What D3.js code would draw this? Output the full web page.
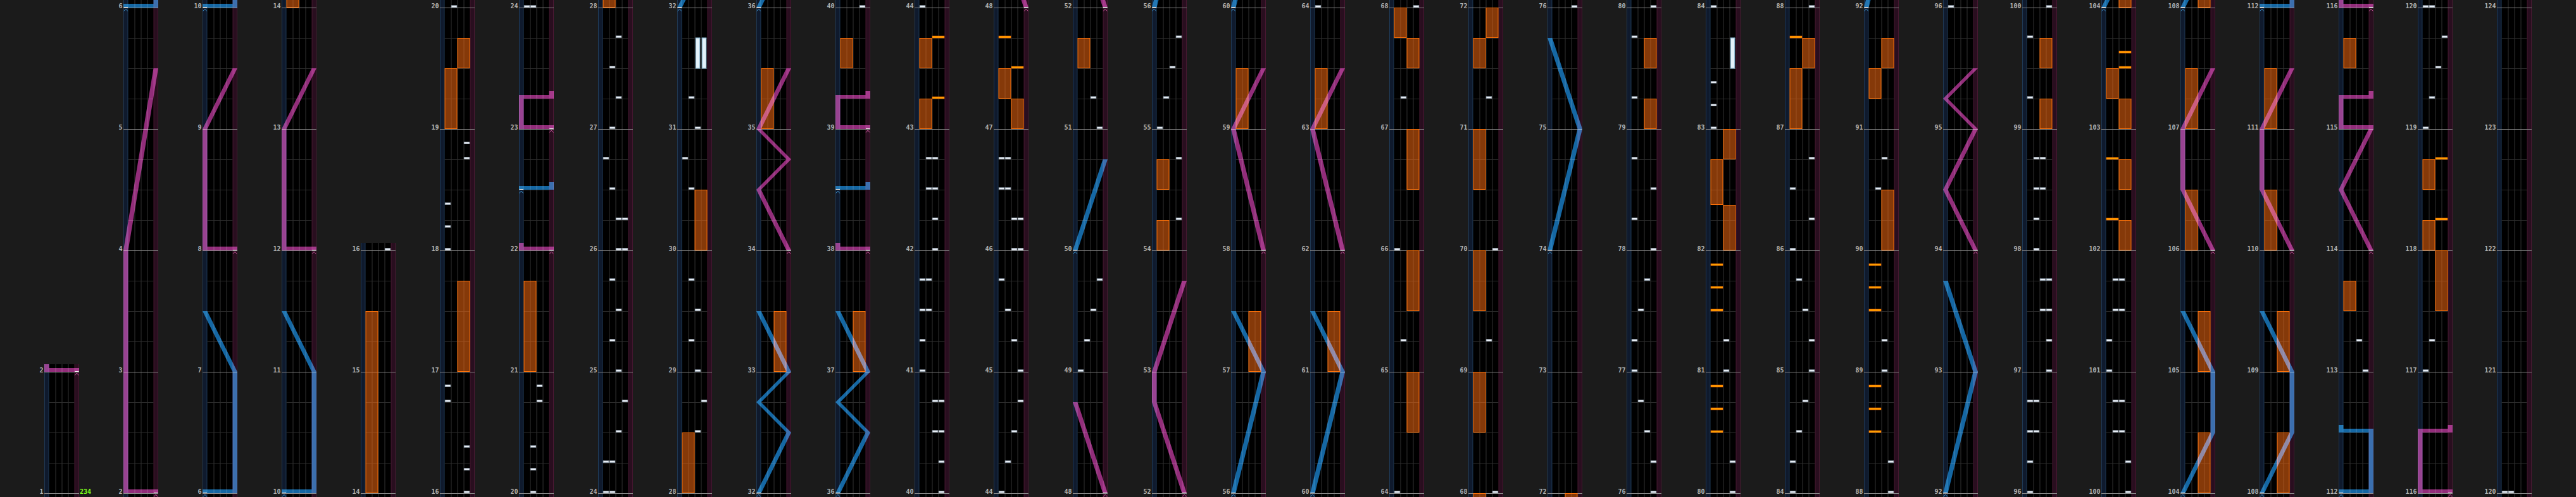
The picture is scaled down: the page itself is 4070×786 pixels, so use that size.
<!DOCTYPE html>
<html><head><meta charset="utf-8">
<script src="https://cdn.jsdelivr.net/npm/d3@7"></script>
<style>
html,body{margin:0;padding:0;background:#1b1b1b;}
svg{display:block;}
</style></head><body>
<svg id="chart" width="4070" height="786"></svg>
<script>
// ---------- DATA ----------
// each column: [startMeasure, endMeasure]
const columnRanges = [[1,2],[2,6],[6,10],[10,14],[14,16],[16,20],[20,24],[24,28],[28,32],[32,36],[36,40],[40,44],[44,48],[48,52],[52,56],[56,60],[60,64],[64,68],[68,72],[72,76],[76,80],[80,84],[84,88],[88,92],[92,96],[96,100],[100,104],[104,108],[108,112],[112,116],[116,120],[120,124]];
// BPM changes: [measure, bpm]
const bpmChanges = [[1, 234]];
// BT chips: [time in measures, lane 0..3]
const btChips = [
[16,3],[16.1875,3],[16.375,3],[16.75,0],[16.875,0],[18,0],[18.1875,0],[18.375,0],[18.75,3],[18.875,3],
[20,1],[20.1875,1],[20.375,1],[20.75,2],[20.875,2],
[24,0],[24,1],[24.25,0],[24.25,1],[24.5,2],[24.75,3],[25,2],[25.25,1],[25.5,2],[25.75,1],[26,2],[26,3],[26.25,2],[26.25,3],[26.5,1],[26.75,0],[27,1],[27.25,2],[27.5,1],[27.75,2],
[28.5,2],[28.75,3],[29,2],[29.25,1],[29.5,2],[29.75,1],[30.5,1],[30.75,0],[31,2],[31.25,1],
[40,3],[40.25,3],[40.5,2],[40.5,3],[40.75,2],[40.75,3],[41,0],[41.25,0],[41.5,0],[41.5,1],[41.75,0],[41.75,1],[42,2],[42.25,2],[42.5,1],[42.5,2],[42.75,1],[42.75,2],
[44,0],[44.25,1],[44.5,2],[44.75,3],[45,3],[45.25,2],[45.5,1],[45.75,0],[46,2],[46,3],[46.25,2],[46.25,3],[46.5,0],[46.5,1],[46.75,0],[46.75,1],
[49,0],[49.25,1],[49.5,2],[49.75,3],[51,3],[51.25,2],
[54.25,3],[54.75,3],[55,0],[55.25,1],[55.5,2],[55.75,3],
[64,0],[65.25,1],[66,0],[67.25,1],[68,3],[69.25,2],[70,3],[71.25,2],
[76,3],[76.25,3],[76.5,2],[76.75,1],[77,0],[77.25,0],[77.5,1],[77.75,2],[78,3],[78.25,0],[78.5,3],[78.75,0],[79.25,0],[79.75,0],
[80,3],[80.25,3],[81,2],[81.25,2],[83,0],[83.1875,0],[83.375,0],
[84,0],[84.25,0],[84.5,1],[84.75,2],[85,3],[85.25,3],[85.5,2],[85.75,1],[86,0],[86.25,3],[86.5,0],[86.75,3],
[88,3],[88.25,3],[89,2],[89.25,2],[90.5,1],[90.75,2],
[96,0],[96.25,0],[96.5,0],[96.5,1],[96.75,0],[96.75,1],[97,3],[97.25,3],[97.5,2],[97.5,3],[97.75,2],[97.75,3],[98,1],[98.25,1],[98.5,1],[98.5,2],[98.75,1],[98.75,2],[99.25,0],[99.75,0],
[100,3],[100.25,3],[100.5,1],[100.5,2],[100.75,1],[100.75,2],[101,0],[101.25,0],[101.5,1],[101.5,2],[101.75,1],[101.75,2],
[113,3],[113.25,2],
[117,0],[117.25,1],[119,0],[119.25,1],[119.5,2],[119.75,3],[120,0],[120,1]
];
// BT holds: [start, end, lane]
const btHolds = [[31.5,31.75,2],[31.5,31.75,3],[83.5,83.75,3]];
// FX chips: [time, side 0=left 1=right]
const fxChips = [
[43.25,1],[43.75,1],[47.5,1],[47.75,0],
[80.5,0],[80.6875,0],[80.875,0],[81.5,0],[81.6875,0],[81.875,0],
[87.75,0],
[88.5,0],[88.6875,0],[88.875,0],[89.5,0],[89.6875,0],[89.875,0],
[102.25,0],[102.75,0],[103.5,1],[103.625,1],
[118.25,1],[118.75,1]
];
// FX holds: [start, end, side]
const fxHolds = [
[14,15.5,0],[17,17.75,1],[19,19.5,0],[19.5,19.75,1],[21,21.75,0],
[28,28.5,0],[30,30.5,1],[33,33.5,1],[35,35.5,0],[37,37.5,1],[39.5,39.75,0],
[43,43.25,0],[43.5,43.75,0],[47,47.25,1],[47.25,47.5,0],[51.5,51.75,0],
[54,54.25,0],[54.5,54.75,0],[57,57.5,1],[59,59.5,0],[61,61.5,1],[63,63.5,0],
[64.5,65,1],[65.5,66,1],[66.5,67,1],[67.5,67.75,1],[67.75,68,0],
[68.5,69,0],[69.5,70,0],[70.5,71,0],[71.5,71.75,0],[71.75,72,1],
[79,79.25,1],[79.5,79.75,1],
[82,82.375,1],[82.375,82.75,0],[82.75,83,1],
[87,87.5,0],[87.5,87.75,1],[90,90.5,1],[91.25,91.5,0],[91.5,91.75,1],
[99,99.25,1],[99.5,99.75,1],
[102,102.25,1],[102.5,102.75,1],[103,103.25,1],[103.25,103.5,0],
[104,104.5,1],[105,105.5,1],[106,106.5,0],[107,107.5,0],
[108,108.5,1],[109,109.5,1],[110,110.5,0],[111,111.5,0],
[113.5,113.75,0],[115.5,115.75,0],
[117.5,118,1],[118,118.25,0],[118.5,118.75,0]
];
// Left (blue) laser: each is a list of [time, position 0..1]; same time twice = slam
const laserLeft = [
[[6,0],[6,1],[7,1],[7.5,0]],
[[10,0],[10,1],[11,1],[11.5,0]],
[[22.5,0],[22.5,1],[22.5625,1]],
[[32,0],[32.5,1],[32.75,0],[33,1],[33.5,0]],
[[36,0],[36.5,1],[36.75,0],[37,1],[37.5,0]],
[[38.5,0],[38.5,1],[38.5625,1]],
[[50,0],[50.75,1]],
[[56,0],[57,1],[57.5,0]],
[[60,0],[61,1],[61.5,0]],
[[74,0],[75,1],[75.75,0]],
[[92,0],[93,1],[93.75,0]],
[[104,0],[104.5,1],[105,1],[105.5,0]],
[[108,0],[108.5,1],[109,1],[109.5,0]],
[[112,0],[112,1],[112.5,1],[112.5,0],[112.5625,0]]
];
// Right (pink) laser
const laserRight = [
[[2,1],[2,0],[4,0],[5.5,1]],
[[8,1],[8,0],[9,0],[9.5,1]],
[[12,1],[12,0],[13,0],[13.5,1]],
[[22,1],[22,0],[22.0625,0]],
[[23,1],[23,0],[23.25,0],[23.25,1],[23.3125,1]],
[[34,1],[34.5,0],[34.75,1],[35,0],[35.5,1]],
[[38,1],[38,0],[38.0625,0]],
[[39,1],[39,0],[39.25,0],[39.25,1],[39.3125,1]],
[[48,1],[48.75,0]],
[[52,1],[52.75,0],[53,0],[53.75,1]],
[[58,1],[59,0],[59.5,1]],
[[62,1],[63,0],[63.5,1]],
[[94,1],[94.5,0],[95,1],[95.25,0],[95.5,1]],
[[106,1],[106.5,0],[107,0],[107.5,1]],
[[110,1],[110.5,0],[111,0],[111.5,1]],
[[114,1],[114.5,0],[115,1],[115,0],[115.25,0],[115.25,1],[115.3125,1]],
[[116,1],[116,0],[116.5,0],[116.5,1],[116.5625,1]]
];

// ---------- DRAW ----------
const W = 4070, H = 786;
const colLeft0 = 70, colPitch = 125, colW = 55, laserW = 7.5;
const measureH = 192, baseY = 780, headroom = 12;

const svg = d3.select("#chart");
svg.append("rect").attr("width", W).attr("height", H).attr("fill", "#1b1b1b");
const defs = svg.append("defs");

const colX = d3.scaleLinear().domain([0, 1]).range([colLeft0, colLeft0 + colPitch]);
const laneX = d3.scaleBand().domain([0,1,2,3]).range([laserW, colW - laserW]);
const fxX = d3.scaleBand().domain([0,1]).range([laserW, colW - laserW]);
const laserX = d3.scaleLinear().domain([0, 1]).range([0, colW - laserW]);

const lineGen = d3.line();
const laserStyles = [
  {data: laserLeft, fill: "#1567a3", mark: "#3f93cc"},
  {data: laserRight, fill: "#922d7a", mark: "#cf5aa2"}
];

columnRanges.forEach(([s, e], i) => {
  const left = colX(i);
  const n = e - s;
  const y = d3.scaleLinear().domain([s, e]).range([baseY, baseY - n * measureH]);
  const top = y(e) - headroom;
  const tLo = y.invert(H) - 0.05, tHi = y.invert(top) + 0.05;
  const inWin = (a, b) => b >= tLo && a <= tHi;

  const g = svg.append("g").attr("transform", `translate(${left},0)`);
  const clipId = "clip" + i;
  defs.append("clipPath").attr("id", clipId)
    .append("rect").attr("x", 0).attr("y", top).attr("width", colW).attr("height", H - top);
  const body = g.append("g").attr("clip-path", `url(#${clipId})`);

  body.append("rect").attr("x", 0).attr("y", top).attr("width", colW).attr("height", H - top).attr("fill", "#000");
  // laser lanes
  body.append("rect").attr("x", 0.5).attr("y", top - 1).attr("width", laserW - 1).attr("height", H - top + 2)
    .attr("fill", "#0f1a2d").attr("stroke", "#1f3854").attr("stroke-width", 1);
  body.append("rect").attr("x", colW - laserW + 0.5).attr("y", top - 1).attr("width", laserW - 1).attr("height", H - top + 2)
    .attr("fill", "#290e1f").attr("stroke", "#471831").attr("stroke-width", 1);
  // lane separators
  [1, 2, 3].forEach(k => {
    body.append("line").attr("x1", laneX(k) + 0.5).attr("x2", laneX(k) + 0.5)
      .attr("y1", top).attr("y2", H).attr("stroke", "#333").attr("stroke-width", 1);
  });
  // beat lines
  const beats = d3.range(Math.floor(tLo * 4) / 4, tHi, 0.25).filter(t => Math.abs(t - Math.round(t)) > 1e-6);
  beats.forEach(t => {
    body.append("line").attr("x1", laserW).attr("x2", colW - laserW)
      .attr("y1", Math.round(y(t)) + 0.5).attr("y2", Math.round(y(t)) + 0.5)
      .attr("stroke", "#2d2d2d").attr("stroke-width", 1);
  });
  // measure lines
  d3.range(s, e + 1).forEach(m => {
    body.append("line").attr("x1", 0).attr("x2", colW)
      .attr("y1", y(m) + 0.5).attr("y2", y(m) + 0.5)
      .attr("stroke", "#8a8a8a").attr("stroke-width", 1);
  });

  // FX holds
  body.selectAll(".fxh").data(fxHolds.filter(d => inWin(d[0], d[1]))).join("rect")
    .attr("x", d => fxX(d[2]) + 0.5).attr("width", fxX.bandwidth() - 1)
    .attr("y", d => y(d[1]) + 0.5).attr("height", d => y(d[0]) - y(d[1]) - 1)
    .attr("fill", "rgba(255,110,18,0.52)").attr("stroke", "#ff7208").attr("stroke-width", 1);
  // BT holds
  body.selectAll(".bth").data(btHolds.filter(d => inWin(d[0], d[1]))).join("rect")
    .attr("x", d => laneX(d[2]) + 1.8).attr("width", laneX.bandwidth() - 3.6)
    .attr("y", d => y(d[1])).attr("height", d => y(d[0]) - y(d[1]))
    .attr("fill", "#e4f2fa").attr("stroke", "#8fbcd6").attr("stroke-width", 1.2);
  // FX chips
  body.selectAll(".fxc").data(fxChips.filter(d => inWin(d[0], d[0]))).join("rect")
    .attr("x", d => fxX(d[1]) + 0.5).attr("width", fxX.bandwidth() - 1)
    .attr("y", d => y(d[0]) - 3).attr("height", 3)
    .attr("fill", "#ffa000").attr("stroke", "#ff6a00").attr("stroke-width", 0.6);
  // BT chips
  body.selectAll(".btc").data(btChips.filter(d => inWin(d[0], d[0]))).join("rect")
    .attr("x", d => laneX(d[1]) + 0.6).attr("width", laneX.bandwidth() - 1.2)
    .attr("y", d => y(d[0]) - 3.3).attr("height", 3)
    .attr("fill", "#e8eef5").attr("stroke", "#8796a6").attr("stroke-width", 0.6);

  // lasers
  laserStyles.forEach(st => {
    st.data.forEach(pts => {
      const t0 = pts[0][0], t1 = pts[pts.length - 1][0];
      if (!inWin(t0, t1)) return;
      const lg = body.append("g").style("mix-blend-mode", "screen");
      for (let k = 0; k < pts.length - 1; k++) {
        const [ta, pa] = pts[k], [tb, pb] = pts[k + 1];
        if (ta === tb) {
          const xa = Math.min(laserX(pa), laserX(pb)), xb = Math.max(laserX(pa), laserX(pb)) + laserW;
          lg.append("rect").attr("x", xa).attr("y", y(ta) - 6).attr("width", xb - xa).attr("height", 6).attr("fill", st.fill);
        } else {
          lg.append("path").attr("d", lineGen([
            [laserX(pa), y(ta)], [laserX(pa) + laserW, y(ta)],
            [laserX(pb) + laserW, y(tb)], [laserX(pb), y(tb)]
          ]) + "Z").attr("fill", st.fill);
        }
      }
      // start marker
      const [ts, ps] = pts[0];
      const cx = laserX(ps) + laserW / 2;
      body.append("line").attr("x1", laserX(ps) + 0.5).attr("x2", laserX(ps) + laserW - 0.5)
        .attr("y1", y(ts) - 0.5).attr("y2", y(ts) - 0.5).attr("stroke", "#f0f0f0").attr("stroke-width", 1);
      body.append("path").attr("d", `M${cx - 3},${y(ts) + 5.5}L${cx},${y(ts) + 2}L${cx + 3},${y(ts) + 5.5}`)
        .attr("fill", "none").attr("stroke", st.mark).attr("stroke-width", 1);
    });
  });

  // measure labels
  d3.range(s, e + 1).forEach(m => {
    g.append("text").attr("x", -1.5).attr("y", y(m) + 0.5)
      .attr("text-anchor", "end")
      .attr("font-family", "'DejaVu Sans Mono', monospace").attr("font-weight", "bold")
      .attr("font-size", 10).attr("fill", "#b2b2b2").text(m);
  });
  // BPM labels
  bpmChanges.filter(d => d[0] >= s && d[0] < e).forEach(d => {
    g.append("text").attr("x", colW + 1).attr("y", y(d[0]) + 0.5)
      .attr("font-family", "'DejaVu Sans Mono', monospace").attr("font-weight", "bold")
      .attr("font-size", 10).attr("fill", "#7dff1a").text(d[1]);
  });
});
</script>
</body></html>
